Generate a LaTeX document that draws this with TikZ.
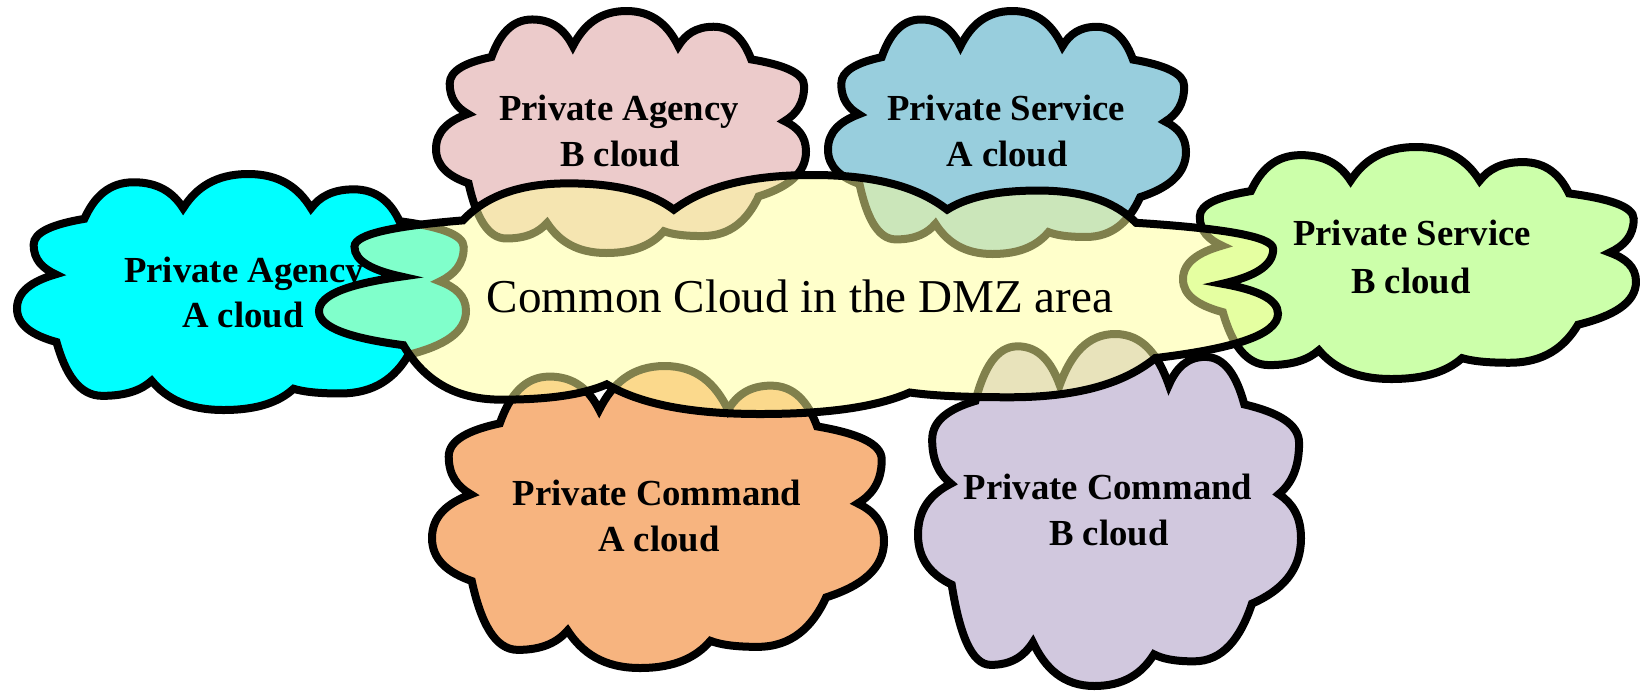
\documentclass[tikz,border=0pt]{standalone}
\usepackage{fontspec}
\setmainfont{Liberation Serif}
\definecolor{cPink}{HTML}{ECCBCB}
\definecolor{cBlue}{HTML}{98CEDD}
\definecolor{cCyan}{HTML}{00FFFF}
\definecolor{cGreen}{HTML}{CCFFAA}
\definecolor{cOrange}{HTML}{F7B47F}
\definecolor{cLav}{HTML}{D1C8DE}
\definecolor{cYellow}{HTML}{FFFF99}
\tikzset{
  cloudline/.style={draw=black, line width=0.16cm},
  lbl/.style={font=\fontsize{20.9}{25}\selectfont\bfseries, anchor=base, inner sep=0pt},
  biglbl/.style={font=\fontsize{26.8}{32}\selectfont, anchor=base, inner sep=0pt}
}
% #1 name, #2 x0, #3 y0, #4 width, #5 height, #6 fill options
\newcommand\mycloud[6]{%
  \begin{scope}[shift={(#2,#3)}, xscale=#4, yscale=#5]
  \path[cloudline, #6] (0.15,0.19)
   .. controls (0.172,0.097) and (0.205,0.035) .. (0.26,0.035)
   .. controls (0.315,0.035) and (0.348,0.079) .. (0.37,0.145)
   .. controls (0.399,0.058) and (0.4425,0) .. (0.515,0)
   .. controls (0.585,0) and (0.627,0.058) .. (0.655,0.145)
   .. controls (0.674,0.097) and (0.7025,0.065) .. (0.75,0.065)
   .. controls (0.801,0.065) and (0.832,0.119) .. (0.852,0.2)
   .. controls (0.938,0.222) and (0.995,0.255) .. (0.995,0.31)
   .. controls (0.995,0.3825) and (0.974,0.426) .. (0.942,0.455)
   .. controls (0.977,0.48) and (1,0.5175) .. (1,0.58)
   .. controls (1,0.673) and (0.949,0.729) .. (0.872,0.766)
   .. controls (0.842,0.864) and (0.796,0.93) .. (0.72,0.93)
   .. controls (0.668,0.93) and (0.637,0.922) .. (0.616,0.91)
   .. controls (0.585,0.964) and (0.538,1) .. (0.46,1)
   .. controls (0.38,1) and (0.332,0.95) .. (0.30,0.876)
   .. controls (0.278,0.914) and (0.245,0.94) .. (0.19,0.94)
   .. controls (0.139,0.94) and (0.108,0.849) .. (0.088,0.712)
   .. controls (0.035,0.684) and (0,0.641) .. (0,0.57)
   .. controls (0,0.4975) and (0.034,0.454) .. (0.086,0.425)
   .. controls (0.057,0.40) and (0.037,0.3625) .. (0.037,0.30)
   .. controls (0.037,0.245) and (0.082,0.212) .. (0.15,0.19)
   -- cycle;
  \coordinate (#1) at (0.5,0.5);
  \end{scope}}
\begin{document}
\begin{tikzpicture}[x=0.02cm, y=-0.02cm]
\fill[white] (0,0) rectangle (1640,691);
\useasboundingbox (0,0) rectangle (1640,691);
% private clouds
\mycloud{agA}{17}{174}{449}{236}{fill=cCyan}
\node[lbl] (agA1) at (244,282) {Private Agency};
\node[lbl] (agA2) at (243,327) {A cloud};
\mycloud{agB}{436}{11}{370}{242}{fill=cPink}
\node[lbl] (agB1) at (619,120) {Private Agency};
\node[lbl] (agB2) at (620,166) {B cloud};
\mycloud{svA}{828}{11}{358}{243}{fill=cBlue}
\node[lbl] (svA1) at (1006,120) {Private Service};
\node[lbl] (svA2) at (1007,166) {A cloud};
\mycloud{svB}{1183}{147}{453}{232}{fill=cGreen}
\node[lbl] (svB1) at (1412,245) {Private Service};
\node[lbl] (svB2) at (1411,293) {B cloud};
\mycloud{cmB}{918}{334}{383}{352}{fill=cLav}
\node[lbl] (cmB1) at (1108,499) {Private Command};
\node[lbl] (cmB2) at (1109,545) {B cloud};
\mycloud{cmA}{432}{366}{452}{302}{fill=cOrange}
\node[lbl] (cmA1) at (657,505) {Private Command};
\node[lbl] (cmA2) at (659,551) {A cloud};
% common cloud
\mycloud{dmz}{319}{175}{959}{239}{fill=cYellow, fill opacity=0.5}
\node[biglbl] (dmzT) at (800,312) {Common Cloud in the DMZ area};
\end{tikzpicture}
\end{document}
